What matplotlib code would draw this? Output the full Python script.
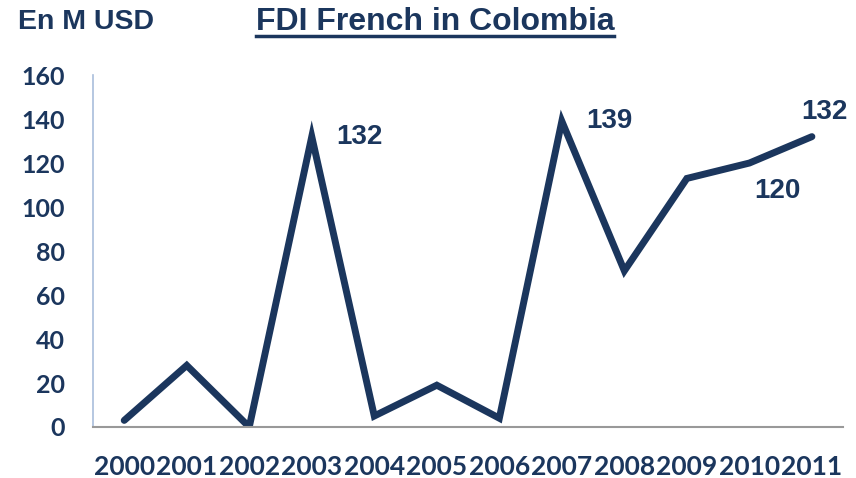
import matplotlib
matplotlib.use("Agg")
import matplotlib.pyplot as plt
from matplotlib.lines import Line2D

years = ["2000", "2001", "2002", "2003", "2004", "2005", "2006", "2007", "2008", "2009", "2010", "2011"]
fdi = [3, 28, 0, 132, 5, 19, 4, 139, 71, 113, 120, 132]
# which points get a value label, and where to put it (offset in points)
labels = {3: (34, 0), 7: (34, 0), 10: (20, -20), 11: (9, 18)}

navy = "#1b365d"
plt.rcParams["font.family"] = ["Liberation Sans", "DejaVu Sans"]

fig = plt.figure(figsize=(8.56, 4.78), dpi=100)
ax = fig.add_axes([0.1086, 0.1067, 0.8764, 0.7363])

x = range(len(years))
ax.plot(x, fdi, color=navy, lw=5, solid_capstyle="round", solid_joinstyle="miter")

for i, (dx, dy) in labels.items():
    ax.annotate(str(fdi[i]), (i, fdi[i]), xytext=(dx, dy), textcoords="offset points",
                ha="center", va="center", fontsize=20, fontweight="bold", color=navy)

ax.set_xlim(-0.5, 11.5)
ax.set_ylim(0, 160)
ax.set_yticks(range(0, 161, 20))
ax.set_xticks(list(x))
ax.set_xticklabels(years)
ax.tick_params(length=0)
ax.tick_params(axis="y", pad=20)
ax.tick_params(axis="x", pad=20)
for lab in ax.get_xticklabels():
    lab.set_fontfamily(["Lato", "DejaVu Sans"])
    lab.set_fontweight("bold")
    lab.set_fontsize(19)
    lab.set_color(navy)
for lab in ax.get_yticklabels():
    lab.set_fontfamily(["Lato", "DejaVu Sans"])
    lab.set_fontweight("bold")
    lab.set_fontsize(18)
    lab.set_color(navy)

for s in ["top", "right"]:
    ax.spines[s].set_visible(False)
ax.spines["left"].set_color("#a9bddb")
ax.spines["left"].set_linewidth(1.2)
ax.spines["bottom"].set_color("#999999")
ax.spines["bottom"].set_linewidth(1.5)

fig.text(0.021, 0.953, "En M USD", fontsize=20.5, fontweight="bold", color=navy, va="center")
title = fig.text(0.508, 0.953, "FDI French in Colombia", fontsize=23, fontweight="bold",
                 color=navy, ha="center", va="center")

# underline the title
fig.canvas.draw()
bb = title.get_window_extent().transformed(fig.transFigure.inverted())
fig.add_artist(Line2D([bb.x0, bb.x1], [bb.y0 + 0.004, bb.y0 + 0.004], color=navy, lw=2.5,
                      transform=fig.transFigure))

fig.savefig("out.png", dpi=100)
